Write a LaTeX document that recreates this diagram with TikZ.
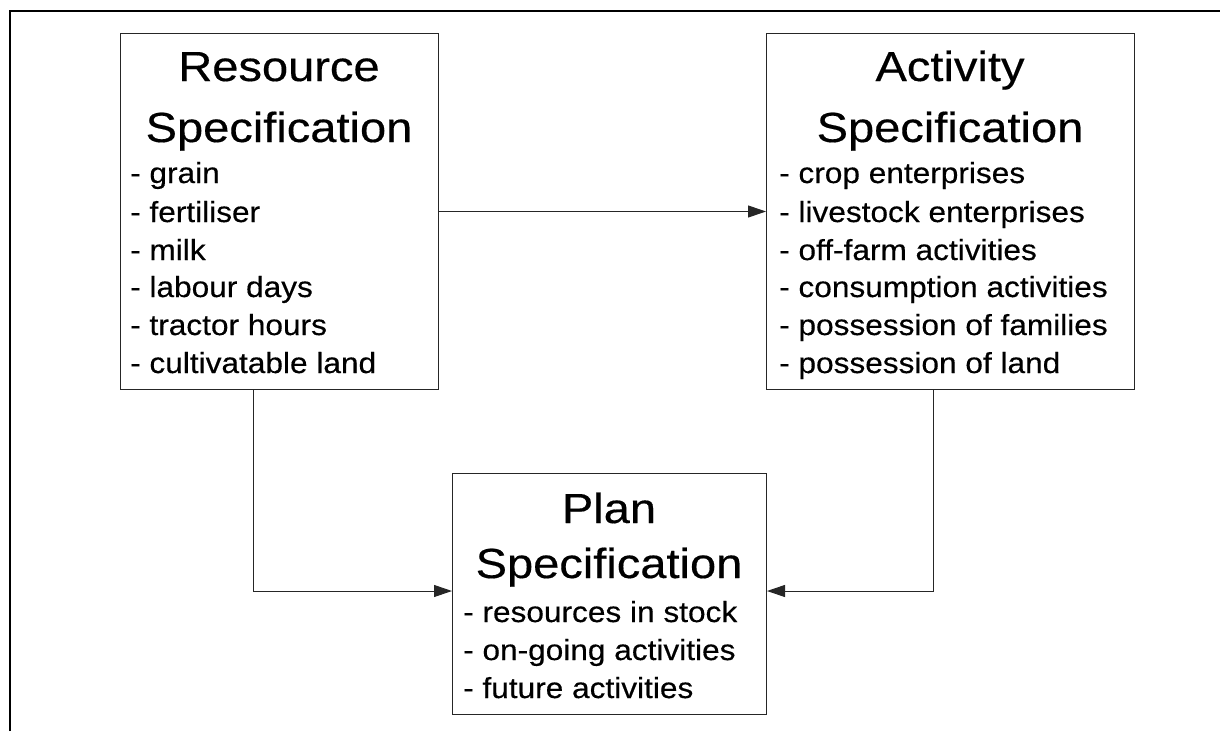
\documentclass[tikz,border=0pt]{standalone}
\usepackage{fontspec}
\setmainfont{Liberation Sans}
\newfontfamily\headfont[FakeStretch=1.12,FakeBold=0.4]{Liberation Sans}
\newfontfamily\itemfont[FakeStretch=1.09,FakeBold=0.4]{Liberation Sans}
\usetikzlibrary{arrows.meta}

\begin{document}
\begin{tikzpicture}[x=1pt,y=-1pt,
  box/.style={draw=black!85, line width=1pt, inner sep=0pt, anchor=north west},
  head/.style={anchor=base, inner sep=0pt, font=\headfont\fontsize{42}{42}\selectfont},
  entry/.style={anchor=base west, inner sep=0pt, font=\itemfont\fontsize{29}{29}\selectfont},
  link/.style={draw=black!85, line width=1pt, -{Triangle[length=18pt,width=12pt]}}]

% page area
\useasboundingbox (0,0) rectangle (1220,731);
\draw[line width=2pt] (10,731) -- (10,11) -- (1220,11);

% boxes
\node[box, minimum width=318pt, minimum height=356pt] (res)  at (120,33) {};
\node[box, minimum width=368pt, minimum height=356pt] (act)  at (766,33) {};
\node[box, minimum width=314pt, minimum height=241pt] (plan) at (452,473) {};

% resource specification
\node[head] (resA) at (279,81)  {Resource};
\node[head] (resB) at (279,142) {Specification};
\node[entry] (r1) at (130,183) {- grain};
\node[entry] (r2) at (130,222) {- fertiliser};
\node[entry] (r3) at (130,260) {- milk};
\node[entry] (r4) at (130,297) {- labour days};
\node[entry] (r5) at (130,335) {- tractor hours};
\node[entry] (r6) at (130,373) {- cultivatable land};

% activity specification
\node[head] (actA) at (950,81)  {Activity};
\node[head] (actB) at (950,142) {Specification};
\node[entry] (a1) at (779,183) {- crop enterprises};
\node[entry] (a2) at (779,222) {- livestock enterprises};
\node[entry] (a3) at (779,260) {- off-farm activities};
\node[entry] (a4) at (779,297) {- consumption activities};
\node[entry] (a5) at (779,335) {- possession of families};
\node[entry] (a6) at (779,373) {- possession of land};

% plan specification
\node[head] (planA) at (609,523) {Plan};
\node[head] (planB) at (609,578) {Specification};
\node[entry] (p1) at (463,622) {- resources in stock};
\node[entry] (p2) at (463,660) {- on-going activities};
\node[entry] (p3) at (463,698) {- future activities};

% connectors
\coordinate (join) at (0,591);
\draw[link] (res.east) -- (act.west);
\draw[link] ([xshift=-26pt]res.south) |- (plan.west |- join);
\draw[link] ([xshift=-17pt]act.south) |- (plan.east |- join);
\end{tikzpicture}
\end{document}
